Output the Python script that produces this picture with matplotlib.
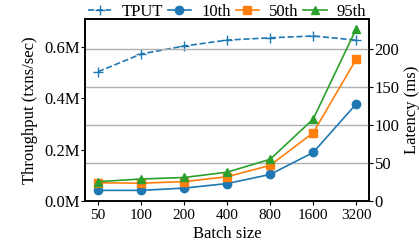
import matplotlib.pyplot as plt
import numpy as np

plt.rcParams['font.family'] = ['Liberation Serif', 'DejaVu Serif']
plt.rcParams['font.size'] = 12

# batch sizes (categorical)
batch = ["50", "100", "200", "400", "800", "1600", "3200"]
# throughput in M txns/sec
tput = [0.502, 0.571, 0.602, 0.625, 0.634, 0.641, 0.625]
# latency percentiles in ms
lat10 = [14, 14, 17, 23, 35, 64, 128]
lat50 = [24, 23.5, 25.5, 32, 47, 90, 187]
lat95 = [25.5, 29, 31, 38, 55, 108, 227]

x = np.arange(len(batch))

fig, ax = plt.subplots(figsize=(4.19, 2.5), dpi=100)
ax2 = ax.twinx()

l0, = ax.plot(x, [v * 1e6 for v in tput], color="tab:blue", linestyle="--",
              marker="+", markersize=7, linewidth=1.2, label="TPUT")
l1, = ax2.plot(x, lat10, color="tab:blue", marker="o", markersize=6,
               linewidth=1.2, label="10th")
l2, = ax2.plot(x, lat50, color="tab:orange", marker="s", markersize=6,
               linewidth=1.2, label="50th")
l3, = ax2.plot(x, lat95, color="tab:green", marker="^", markersize=6,
               linewidth=1.2, label="95th")

ax.set_xlim(-0.3, 6.3)
ax.set_xticks(x)
ax.set_xticklabels(batch)
ax.set_ylim(0, 0.707e6)
ax.set_yticks([0, 0.2e6, 0.4e6, 0.6e6])
ax.set_yticklabels(["0.0M", "0.2M", "0.4M", "0.6M"])
ax2.set_ylim(0, 240)
ax2.set_yticks([0, 50, 100, 150, 200])
ax2.grid(axis="y", color="#b0b0b0", linewidth=1)
ax2.set_axisbelow(True)

ax.set_xlabel("Batch size", labelpad=3)
ax.set_ylabel("Throughput (txns/sec)", labelpad=4)
ax2.set_ylabel("Latency (ms)", labelpad=3)

for a in (ax, ax2):
    a.tick_params(length=3, pad=1)
    for s in a.spines.values():
        s.set_linewidth(1.2)
ax.tick_params(axis="x", labelsize=11, pad=3)

fig.legend(handles=[l0, l1, l2, l3], loc="center", ncol=4, frameon=False,
           bbox_to_anchor=(0.542, 0.952), handlelength=1.4, columnspacing=0.3,
           handletextpad=0.6, borderaxespad=0)

fig.subplots_adjust(left=0.203, right=0.881, top=0.924, bottom=0.196)
fig.savefig("out.png", dpi=100)
